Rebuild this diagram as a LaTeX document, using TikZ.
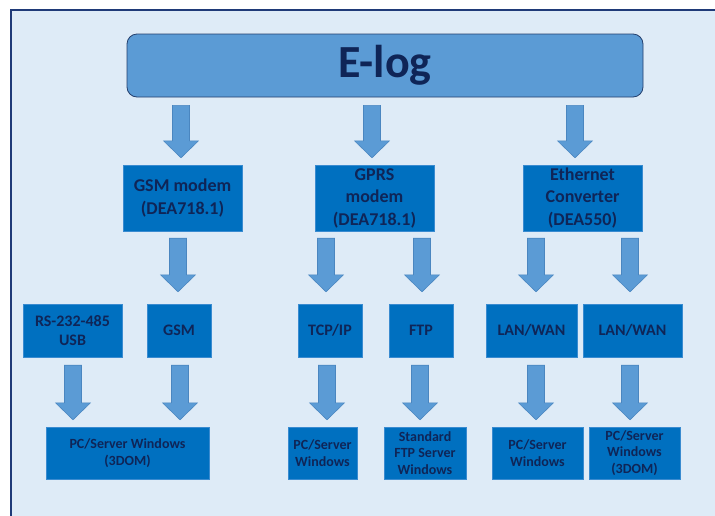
\documentclass[tikz,border=0pt]{standalone}
\usepackage{fontspec}
\setmainfont{Carlito}
\usetikzlibrary{calc}
\definecolor{bgblue}{HTML}{DEEBF7}
\definecolor{framecol}{HTML}{1F3A78}
\definecolor{boxfill}{HTML}{0070C0}
\definecolor{boxedge}{HTML}{3A8BD0}
\definecolor{txtcol}{HTML}{0F2557}
\definecolor{arrfill}{HTML}{5B9BD5}
\definecolor{arredge}{HTML}{4A86C0}
\definecolor{elogedge}{HTML}{24406E}
\tikzset{
  boxbase/.style={fill=boxfill, draw=boxedge, line width=0.4pt, text=txtcol, align=center, inner sep=0pt, font=\bfseries},
  devbox/.style={boxbase, minimum width=119pt, minimum height=66pt, font=\bfseries\fontsize{18}{22.5}\selectfont},
  linkbox/.style={boxbase, minimum height=53pt, font=\bfseries\fontsize{16}{19}\selectfont},
  pcbox/.style={boxbase, minimum height=52pt, font=\bfseries\fontsize{14}{16.7}\selectfont},
  arrstyle/.style={fill=arrfill, draw=arredge, line width=0.6pt, line join=miter}
}
% block arrow from node #2 to node #3, x taken from #1 (expression in \x1 / \x2)
\newcommand{\blockarrow}[5]{%
  \filldraw[arrstyle] let \p1=(#2), \p2=(#3) in
    (#1-8.5pt,\y1-#4) -- (#1+8.5pt,\y1-#4) -- (#1+8.5pt,\y2+#5+17pt) --
    (#1+17.5pt,\y2+#5+17pt) -- (#1,\y2+#5) -- (#1-17.5pt,\y2+#5+17pt) --
    (#1-8.5pt,\y2+#5+17pt) -- cycle;}
\begin{document}
\begin{tikzpicture}[x=1pt,y=1pt]
\useasboundingbox (0,0) rectangle (715,-515);
\clip (0,0) rectangle (715,-515);
\fill[white] (0,0) rectangle (715,-515);
\filldraw[fill=bgblue, draw=framecol, line width=1.6pt] (11,-10) rectangle (730,-530);

% top
\node[fill=arrfill, draw=elogedge, line width=0.8pt, rounded corners=10pt, minimum width=516pt, minimum height=63pt, inner sep=0pt, text=txtcol, font=\bfseries\fontsize{46}{50}\selectfont] (elog) at (385,-65.5) {E-log};

% devices
\node[devbox] (gsmm) at (182.5,-198) {GSM modem\\(DEA718.1)};
\node[devbox] (gprs) at (374.5,-198) {GPRS\\modem\\(DEA718.1)};
\node[devbox] (eth) at (582.5,-198) {Ethernet\\Converter\\(DEA550)};

% links
\node[linkbox, minimum width=99pt] (rs) at (72.5,-330.5) {RS-232-485\\USB};
\node[linkbox, minimum width=64pt] (gsm) at (179,-330.5) {GSM};
\node[linkbox, minimum width=64pt] (tcp) at (330,-330.5) {TCP/IP};
\node[linkbox, minimum width=64pt] (ftp) at (421,-330.5) {FTP};
\node[linkbox, minimum width=91pt] (lan1) at (531.5,-330.5) {LAN/WAN};
\node[linkbox, minimum width=99pt] (lan2) at (632.5,-330.5) {LAN/WAN};

% servers
\node[pcbox, minimum width=163pt] (pc1) at (127.5,-453) {PC/Server Windows\\(3DOM)};
\node[pcbox, minimum width=69pt] (pc2) at (322.5,-453) {PC/Server\\Windows};
\node[pcbox, minimum width=82pt] (std) at (425,-453) {Standard\\FTP Server\\Windows};
\node[pcbox, minimum width=91pt] (pc3) at (537.5,-453) {PC/Server\\Windows};
\node[pcbox, minimum width=91pt] (pc4) at (634.5,-453) {PC/Server\\Windows\\(3DOM)};

% arrows row 1
\blockarrow{\x2-1.5pt}{elog.south}{gsmm.north}{8pt}{7pt}
\blockarrow{\x2-2.5pt}{elog.south}{gprs.north}{8pt}{7pt}
\blockarrow{\x2-7.5pt}{elog.south}{eth.north}{8pt}{7pt}
% arrows row 2
\blockarrow{\x2-1pt}{gsmm.south}{gsm.north}{7pt}{12pt}
\blockarrow{\x2-4pt}{gprs.south}{tcp.north}{7pt}{12pt}
\blockarrow{\x2+1pt}{gprs.south}{ftp.north}{7pt}{12pt}
\blockarrow{\x2+4.5pt}{eth.south}{lan1.north}{7pt}{12pt}
\blockarrow{\x2-2.5pt}{eth.south}{lan2.north}{7pt}{12pt}
% arrows row 3
\blockarrow{\x1+0.5pt}{rs.south}{pc1.north}{8pt}{7pt}
\blockarrow{\x1+1pt}{gsm.south}{pc1.north}{8pt}{7pt}
\blockarrow{\x1-3pt}{tcp.south}{pc2.north}{8pt}{7pt}
\blockarrow{\x1-1pt}{ftp.south}{std.north}{8pt}{7pt}
\blockarrow{\x2-1.5pt}{lan1.south}{pc3.north}{8pt}{7pt}
\blockarrow{\x2-4.5pt}{lan2.south}{pc4.north}{8pt}{7pt}
\end{tikzpicture}
\end{document}
